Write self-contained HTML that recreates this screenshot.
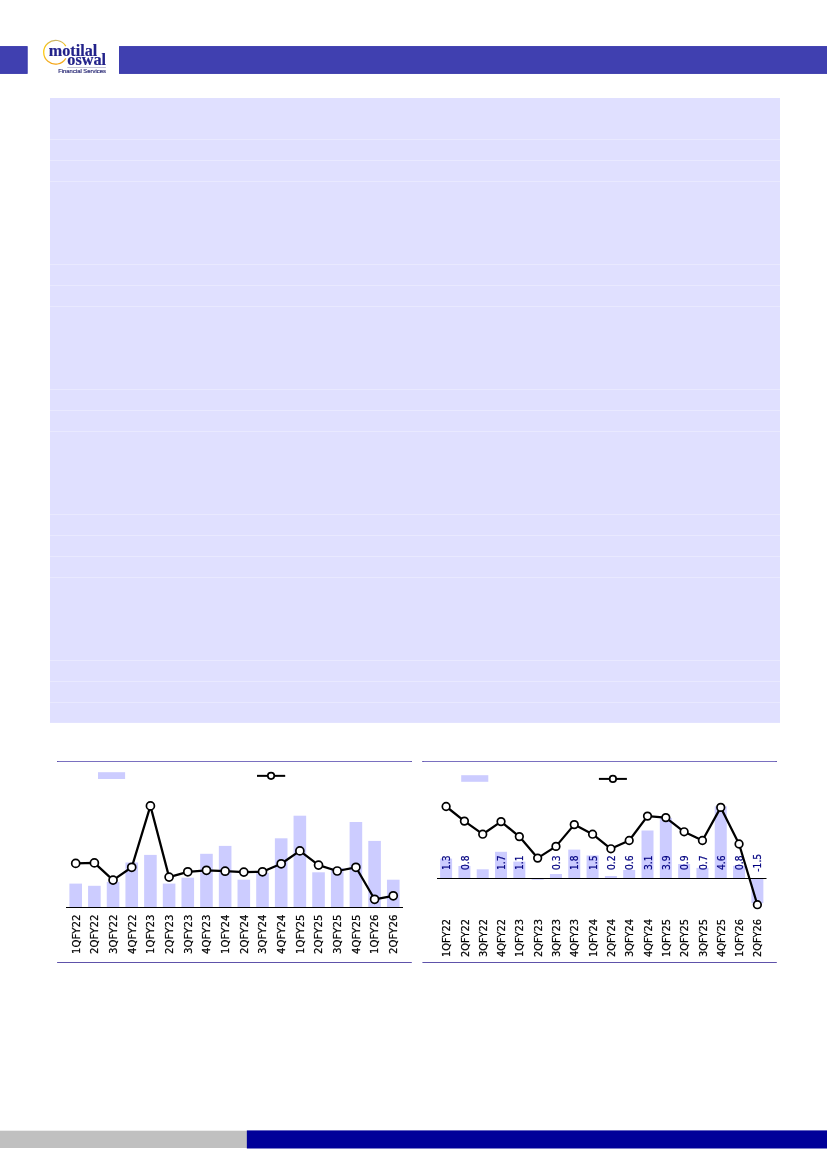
<!DOCTYPE html>
<html lang="en"><head><meta charset="utf-8"><title>Motilal Oswal Financial Services</title>
<style>
html,body{margin:0;padding:0;background:#fff;}
body{width:827px;height:1169px;overflow:hidden;position:relative;font-family:"DejaVu Sans Condensed","DejaVu Sans","Liberation Sans",sans-serif;}
svg{position:absolute;left:0;top:0;display:block;}
.xl{font-family:"DejaVu Sans Condensed","DejaVu Sans","Liberation Sans",sans-serif;font-size:10.8px;fill:#000;stroke:#000;stroke-width:0.22px;}
.dl{font-family:"DejaVu Sans Condensed","DejaVu Sans","Liberation Sans",sans-serif;font-size:10.8px;fill:#000080;stroke:#000080;stroke-width:0.22px;}
.lg1{font-family:"Liberation Serif",serif;font-weight:bold;font-size:17.7px;fill:#22228A;stroke:#22228A;stroke-width:0.2px;}
.lg2{font-family:"Liberation Sans",sans-serif;font-size:5.2px;fill:#2E2E78;stroke:#2E2E78;stroke-width:0.18px;}
</style></head><body>
<svg width="827" height="1169" viewBox="0 0 827 1169">
<rect x="-5" y="46.6" width="32.2" height="26.8" fill="#4040B0" stroke="#3434AA" stroke-width="0.9"/>
<rect x="119.5" y="46.6" width="720" height="26.8" fill="#4040B0" stroke="#3434AA" stroke-width="0.9"/>
<defs><linearGradient id="gold" x1="0" y1="0" x2="0" y2="1"><stop offset="0" stop-color="#C9B469"/><stop offset="0.18" stop-color="#F4C21A"/><stop offset="0.5" stop-color="#FFCB05"/><stop offset="0.85" stop-color="#F2B22C"/><stop offset="1" stop-color="#F5A313"/></linearGradient></defs>
<path d="M65.80 46.12 A11.9 11.9 0 1 0 65.80 58.38" fill="none" stroke="url(#gold)" stroke-width="1.25"/>
<text class="lg1" x="48.8" y="56.2" textLength="48.4" lengthAdjust="spacingAndGlyphs">motilal</text>
<text class="lg1" x="67.3" y="65.0" textLength="38.7" lengthAdjust="spacingAndGlyphs">oswal</text>
<rect x="67.2" y="67.1" width="38.7" height="0.7" fill="#A8A8C4"/>
<text class="lg2" x="58.2" y="72.7" textLength="47.7" lengthAdjust="spacingAndGlyphs">Financial Services</text>
<rect x="50" y="98" width="730" height="624.9" fill="#E0E0FF"/>
<rect x="50" y="139" width="730" height="1" fill="#E9E9FF"/>
<rect x="50" y="160" width="730" height="1" fill="#E9E9FF"/>
<rect x="50" y="181" width="730" height="1" fill="#E9E9FF"/>
<rect x="50" y="264" width="730" height="1" fill="#E9E9FF"/>
<rect x="50" y="285" width="730" height="1" fill="#E9E9FF"/>
<rect x="50" y="306" width="730" height="1" fill="#E9E9FF"/>
<rect x="50" y="389" width="730" height="1" fill="#E9E9FF"/>
<rect x="50" y="410" width="730" height="1" fill="#E9E9FF"/>
<rect x="50" y="431" width="730" height="1" fill="#E9E9FF"/>
<rect x="50" y="514" width="730" height="1" fill="#E9E9FF"/>
<rect x="50" y="535" width="730" height="1" fill="#E9E9FF"/>
<rect x="50" y="556" width="730" height="1" fill="#E9E9FF"/>
<rect x="50" y="577" width="730" height="1" fill="#E9E9FF"/>
<rect x="50" y="660" width="730" height="1" fill="#E9E9FF"/>
<rect x="50" y="681" width="730" height="1" fill="#E9E9FF"/>
<rect x="50" y="702" width="730" height="1" fill="#E9E9FF"/>
<rect x="57.1" y="761" width="354.7" height="1" fill="#7A70C0"/>
<rect x="57.1" y="962" width="354.7" height="1" fill="#5E52AA"/>
<rect x="410.6" y="761" width="1.2" height="1" fill="#5A4EA8"/>
<rect x="98" y="772.2" width="27.1" height="6.8" fill="#CCCCFF"/>
<rect x="69.40" y="883.6" width="12.6" height="23.4" fill="#CCCCFF"/>
<rect x="88.08" y="885.8" width="12.6" height="21.2" fill="#CCCCFF"/>
<rect x="106.76" y="881.9" width="12.6" height="25.1" fill="#CCCCFF"/>
<rect x="125.44" y="862.5" width="12.6" height="44.5" fill="#CCCCFF"/>
<rect x="144.12" y="854.9" width="12.6" height="52.1" fill="#CCCCFF"/>
<rect x="162.80" y="883.6" width="12.6" height="23.4" fill="#CCCCFF"/>
<rect x="181.48" y="877.7" width="12.6" height="29.3" fill="#CCCCFF"/>
<rect x="200.16" y="853.8" width="12.6" height="53.2" fill="#CCCCFF"/>
<rect x="218.84" y="845.9" width="12.6" height="61.1" fill="#CCCCFF"/>
<rect x="237.52" y="879.7" width="12.6" height="27.3" fill="#CCCCFF"/>
<rect x="256.20" y="873.0" width="12.6" height="34.0" fill="#CCCCFF"/>
<rect x="274.88" y="838.3" width="12.6" height="68.7" fill="#CCCCFF"/>
<rect x="293.56" y="815.7" width="12.6" height="91.3" fill="#CCCCFF"/>
<rect x="312.24" y="872.3" width="12.6" height="34.7" fill="#CCCCFF"/>
<rect x="330.92" y="867.9" width="12.6" height="39.1" fill="#CCCCFF"/>
<rect x="349.60" y="822.0" width="12.6" height="85.0" fill="#CCCCFF"/>
<rect x="368.28" y="840.9" width="12.6" height="66.1" fill="#CCCCFF"/>
<rect x="386.96" y="879.7" width="12.6" height="27.3" fill="#CCCCFF"/>
<rect x="66" y="907" width="337" height="1" fill="#000"/>
<polyline points="75.70,863.4 94.38,862.9 113.06,880.1 131.74,867.3 150.42,805.9 169.10,877.1 187.78,871.8 206.46,870.3 225.14,871.2 243.82,872.1 262.50,871.8 281.18,863.8 299.86,850.9 318.54,865.1 337.22,871.0 355.90,867.3 374.58,899.3 393.26,895.8" fill="none" stroke="#000" stroke-width="2.25" stroke-linejoin="round"/>
<circle cx="75.70" cy="863.4" r="4.0" fill="#fff" stroke="#000" stroke-width="1.7"/>
<circle cx="94.38" cy="862.9" r="4.0" fill="#fff" stroke="#000" stroke-width="1.7"/>
<circle cx="113.06" cy="880.1" r="4.0" fill="#fff" stroke="#000" stroke-width="1.7"/>
<circle cx="131.74" cy="867.3" r="4.0" fill="#fff" stroke="#000" stroke-width="1.7"/>
<circle cx="150.42" cy="805.9" r="4.0" fill="#fff" stroke="#000" stroke-width="1.7"/>
<circle cx="169.10" cy="877.1" r="4.0" fill="#fff" stroke="#000" stroke-width="1.7"/>
<circle cx="187.78" cy="871.8" r="4.0" fill="#fff" stroke="#000" stroke-width="1.7"/>
<circle cx="206.46" cy="870.3" r="4.0" fill="#fff" stroke="#000" stroke-width="1.7"/>
<circle cx="225.14" cy="871.2" r="4.0" fill="#fff" stroke="#000" stroke-width="1.7"/>
<circle cx="243.82" cy="872.1" r="4.0" fill="#fff" stroke="#000" stroke-width="1.7"/>
<circle cx="262.50" cy="871.8" r="4.0" fill="#fff" stroke="#000" stroke-width="1.7"/>
<circle cx="281.18" cy="863.8" r="4.0" fill="#fff" stroke="#000" stroke-width="1.7"/>
<circle cx="299.86" cy="850.9" r="4.0" fill="#fff" stroke="#000" stroke-width="1.7"/>
<circle cx="318.54" cy="865.1" r="4.0" fill="#fff" stroke="#000" stroke-width="1.7"/>
<circle cx="337.22" cy="871.0" r="4.0" fill="#fff" stroke="#000" stroke-width="1.7"/>
<circle cx="355.90" cy="867.3" r="4.0" fill="#fff" stroke="#000" stroke-width="1.7"/>
<circle cx="374.58" cy="899.3" r="4.0" fill="#fff" stroke="#000" stroke-width="1.7"/>
<circle cx="393.26" cy="895.8" r="4.0" fill="#fff" stroke="#000" stroke-width="1.7"/>
<line x1="257" y1="775.85" x2="285.2" y2="775.85" stroke="#000" stroke-width="2"/>
<circle cx="271.05" cy="775.85" r="3.25" fill="#fff" stroke="#000" stroke-width="1.7"/>
<text class="xl" transform="translate(79.60 953.9) rotate(-90)" textLength="39.3" lengthAdjust="spacingAndGlyphs">1QFY22</text>
<text class="xl" transform="translate(98.28 953.9) rotate(-90)" textLength="39.3" lengthAdjust="spacingAndGlyphs">2QFY22</text>
<text class="xl" transform="translate(116.96 953.9) rotate(-90)" textLength="39.3" lengthAdjust="spacingAndGlyphs">3QFY22</text>
<text class="xl" transform="translate(135.64 953.9) rotate(-90)" textLength="39.3" lengthAdjust="spacingAndGlyphs">4QFY22</text>
<text class="xl" transform="translate(154.32 953.9) rotate(-90)" textLength="39.3" lengthAdjust="spacingAndGlyphs">1QFY23</text>
<text class="xl" transform="translate(173.00 953.9) rotate(-90)" textLength="39.3" lengthAdjust="spacingAndGlyphs">2QFY23</text>
<text class="xl" transform="translate(191.68 953.9) rotate(-90)" textLength="39.3" lengthAdjust="spacingAndGlyphs">3QFY23</text>
<text class="xl" transform="translate(210.36 953.9) rotate(-90)" textLength="39.3" lengthAdjust="spacingAndGlyphs">4QFY23</text>
<text class="xl" transform="translate(229.04 953.9) rotate(-90)" textLength="39.3" lengthAdjust="spacingAndGlyphs">1QFY24</text>
<text class="xl" transform="translate(247.72 953.9) rotate(-90)" textLength="39.3" lengthAdjust="spacingAndGlyphs">2QFY24</text>
<text class="xl" transform="translate(266.40 953.9) rotate(-90)" textLength="39.3" lengthAdjust="spacingAndGlyphs">3QFY24</text>
<text class="xl" transform="translate(285.08 953.9) rotate(-90)" textLength="39.3" lengthAdjust="spacingAndGlyphs">4QFY24</text>
<text class="xl" transform="translate(303.76 953.9) rotate(-90)" textLength="39.3" lengthAdjust="spacingAndGlyphs">1QFY25</text>
<text class="xl" transform="translate(322.44 953.9) rotate(-90)" textLength="39.3" lengthAdjust="spacingAndGlyphs">2QFY25</text>
<text class="xl" transform="translate(341.12 953.9) rotate(-90)" textLength="39.3" lengthAdjust="spacingAndGlyphs">3QFY25</text>
<text class="xl" transform="translate(359.80 953.9) rotate(-90)" textLength="39.3" lengthAdjust="spacingAndGlyphs">4QFY25</text>
<text class="xl" transform="translate(378.48 953.9) rotate(-90)" textLength="39.3" lengthAdjust="spacingAndGlyphs">1QFY26</text>
<text class="xl" transform="translate(397.16 953.9) rotate(-90)" textLength="39.3" lengthAdjust="spacingAndGlyphs">2QFY26</text>
<rect x="422.4" y="761" width="354.4" height="1" fill="#7A70C0"/>
<rect x="422.4" y="962" width="354.4" height="1" fill="#5E52AA"/>
<rect x="422.4" y="761" width="1.2" height="1" fill="#5A4EA8"/>
<rect x="775.6" y="761" width="1.2" height="1" fill="#5A4EA8"/>
<rect x="57.1" y="761" width="1.2" height="1" fill="#5A4EA8"/>
<rect x="461.2" y="775.2" width="27.1" height="6.6" fill="#CCCCFF"/>
<rect x="440.10" y="858.6" width="12.0" height="19.4" fill="#CCCCFF"/>
<rect x="458.41" y="866.0" width="12.0" height="12.0" fill="#CCCCFF"/>
<rect x="476.72" y="869.3" width="12.0" height="8.7" fill="#CCCCFF"/>
<rect x="495.03" y="851.8" width="12.0" height="26.2" fill="#CCCCFF"/>
<rect x="513.34" y="861.6" width="12.0" height="16.4" fill="#CCCCFF"/>
<rect x="531.65" y="878.0" width="12.0" height="1.7" fill="#CCCCFF"/>
<rect x="549.96" y="874.0" width="12.0" height="4.0" fill="#CCCCFF"/>
<rect x="568.27" y="849.6" width="12.0" height="28.4" fill="#CCCCFF"/>
<rect x="586.58" y="855.5" width="12.0" height="22.5" fill="#CCCCFF"/>
<rect x="604.89" y="876.0" width="12.0" height="2.0" fill="#CCCCFF"/>
<rect x="623.20" y="869.9" width="12.0" height="8.1" fill="#CCCCFF"/>
<rect x="641.51" y="830.5" width="12.0" height="47.5" fill="#CCCCFF"/>
<rect x="659.82" y="817.9" width="12.0" height="60.1" fill="#CCCCFF"/>
<rect x="678.13" y="864.0" width="12.0" height="14.0" fill="#CCCCFF"/>
<rect x="696.44" y="867.9" width="12.0" height="10.1" fill="#CCCCFF"/>
<rect x="714.75" y="806.3" width="12.0" height="71.7" fill="#CCCCFF"/>
<rect x="733.06" y="865.8" width="12.0" height="12.2" fill="#CCCCFF"/>
<rect x="751.37" y="878.0" width="12.0" height="25.2" fill="#CCCCFF"/>
<rect x="437" y="878" width="329.5" height="1" fill="#000"/>
<text class="dl" transform="translate(450.20 870.0) rotate(-90) scale(0.945 1)">1.3</text>
<text class="dl" transform="translate(468.51 870.0) rotate(-90) scale(0.945 1)">0.8</text>
<text class="dl" transform="translate(505.13 870.0) rotate(-90) scale(0.945 1)">1.7</text>
<text class="dl" transform="translate(523.44 870.0) rotate(-90) scale(0.945 1)">1.1</text>
<text class="dl" transform="translate(560.06 870.0) rotate(-90) scale(0.945 1)">0.3</text>
<text class="dl" transform="translate(578.37 870.0) rotate(-90) scale(0.945 1)">1.8</text>
<text class="dl" transform="translate(596.68 870.0) rotate(-90) scale(0.945 1)">1.5</text>
<text class="dl" transform="translate(614.99 870.0) rotate(-90) scale(0.945 1)">0.2</text>
<text class="dl" transform="translate(633.30 870.0) rotate(-90) scale(0.945 1)">0.6</text>
<text class="dl" transform="translate(651.61 870.0) rotate(-90) scale(0.945 1)">3.1</text>
<text class="dl" transform="translate(669.92 870.0) rotate(-90) scale(0.945 1)">3.9</text>
<text class="dl" transform="translate(688.23 870.0) rotate(-90) scale(0.945 1)">0.9</text>
<text class="dl" transform="translate(706.54 870.0) rotate(-90) scale(0.945 1)">0.7</text>
<text class="dl" transform="translate(724.85 870.0) rotate(-90) scale(0.945 1)">4.6</text>
<text class="dl" transform="translate(743.16 870.0) rotate(-90) scale(0.945 1)">0.8</text>
<text class="dl" transform="translate(761.47 871.7) rotate(-90) scale(0.945 1)">-1.5</text>
<polyline points="446.10,806.5 464.41,821.1 482.72,834.2 501.03,821.6 519.34,836.6 537.65,858.1 555.96,846.4 574.27,824.6 592.58,834.2 610.89,848.8 629.20,840.5 647.51,816.1 665.82,817.6 684.13,831.8 702.44,840.5 720.75,807.4 739.06,844.0 757.37,904.7" fill="none" stroke="#000" stroke-width="2.25" stroke-linejoin="round"/>
<circle cx="446.10" cy="806.5" r="3.8" fill="#fff" stroke="#000" stroke-width="1.7"/>
<circle cx="464.41" cy="821.1" r="3.8" fill="#fff" stroke="#000" stroke-width="1.7"/>
<circle cx="482.72" cy="834.2" r="3.8" fill="#fff" stroke="#000" stroke-width="1.7"/>
<circle cx="501.03" cy="821.6" r="3.8" fill="#fff" stroke="#000" stroke-width="1.7"/>
<circle cx="519.34" cy="836.6" r="3.8" fill="#fff" stroke="#000" stroke-width="1.7"/>
<circle cx="537.65" cy="858.1" r="3.8" fill="#fff" stroke="#000" stroke-width="1.7"/>
<circle cx="555.96" cy="846.4" r="3.8" fill="#fff" stroke="#000" stroke-width="1.7"/>
<circle cx="574.27" cy="824.6" r="3.8" fill="#fff" stroke="#000" stroke-width="1.7"/>
<circle cx="592.58" cy="834.2" r="3.8" fill="#fff" stroke="#000" stroke-width="1.7"/>
<circle cx="610.89" cy="848.8" r="3.8" fill="#fff" stroke="#000" stroke-width="1.7"/>
<circle cx="629.20" cy="840.5" r="3.8" fill="#fff" stroke="#000" stroke-width="1.7"/>
<circle cx="647.51" cy="816.1" r="3.8" fill="#fff" stroke="#000" stroke-width="1.7"/>
<circle cx="665.82" cy="817.6" r="3.8" fill="#fff" stroke="#000" stroke-width="1.7"/>
<circle cx="684.13" cy="831.8" r="3.8" fill="#fff" stroke="#000" stroke-width="1.7"/>
<circle cx="702.44" cy="840.5" r="3.8" fill="#fff" stroke="#000" stroke-width="1.7"/>
<circle cx="720.75" cy="807.4" r="3.8" fill="#fff" stroke="#000" stroke-width="1.7"/>
<circle cx="739.06" cy="844.0" r="3.8" fill="#fff" stroke="#000" stroke-width="1.7"/>
<circle cx="757.37" cy="904.7" r="3.8" fill="#fff" stroke="#000" stroke-width="1.7"/>
<line x1="598.9" y1="778.9" x2="626.9" y2="778.9" stroke="#000" stroke-width="2"/>
<circle cx="612.9" cy="778.9" r="3.25" fill="#fff" stroke="#000" stroke-width="1.7"/>
<text class="xl" transform="translate(450.20 957.0) rotate(-90)" textLength="38.0" lengthAdjust="spacingAndGlyphs">1QFY22</text>
<text class="xl" transform="translate(468.51 957.0) rotate(-90)" textLength="38.0" lengthAdjust="spacingAndGlyphs">2QFY22</text>
<text class="xl" transform="translate(486.82 957.0) rotate(-90)" textLength="38.0" lengthAdjust="spacingAndGlyphs">3QFY22</text>
<text class="xl" transform="translate(505.13 957.0) rotate(-90)" textLength="38.0" lengthAdjust="spacingAndGlyphs">4QFY22</text>
<text class="xl" transform="translate(523.44 957.0) rotate(-90)" textLength="38.0" lengthAdjust="spacingAndGlyphs">1QFY23</text>
<text class="xl" transform="translate(541.75 957.0) rotate(-90)" textLength="38.0" lengthAdjust="spacingAndGlyphs">2QFY23</text>
<text class="xl" transform="translate(560.06 957.0) rotate(-90)" textLength="38.0" lengthAdjust="spacingAndGlyphs">3QFY23</text>
<text class="xl" transform="translate(578.37 957.0) rotate(-90)" textLength="38.0" lengthAdjust="spacingAndGlyphs">4QFY23</text>
<text class="xl" transform="translate(596.68 957.0) rotate(-90)" textLength="38.0" lengthAdjust="spacingAndGlyphs">1QFY24</text>
<text class="xl" transform="translate(614.99 957.0) rotate(-90)" textLength="38.0" lengthAdjust="spacingAndGlyphs">2QFY24</text>
<text class="xl" transform="translate(633.30 957.0) rotate(-90)" textLength="38.0" lengthAdjust="spacingAndGlyphs">3QFY24</text>
<text class="xl" transform="translate(651.61 957.0) rotate(-90)" textLength="38.0" lengthAdjust="spacingAndGlyphs">4QFY24</text>
<text class="xl" transform="translate(669.92 957.0) rotate(-90)" textLength="38.0" lengthAdjust="spacingAndGlyphs">1QFY25</text>
<text class="xl" transform="translate(688.23 957.0) rotate(-90)" textLength="38.0" lengthAdjust="spacingAndGlyphs">2QFY25</text>
<text class="xl" transform="translate(706.54 957.0) rotate(-90)" textLength="38.0" lengthAdjust="spacingAndGlyphs">3QFY25</text>
<text class="xl" transform="translate(724.85 957.0) rotate(-90)" textLength="38.0" lengthAdjust="spacingAndGlyphs">4QFY25</text>
<text class="xl" transform="translate(743.16 957.0) rotate(-90)" textLength="38.0" lengthAdjust="spacingAndGlyphs">1QFY26</text>
<text class="xl" transform="translate(761.47 957.0) rotate(-90)" textLength="38.0" lengthAdjust="spacingAndGlyphs">2QFY26</text>
<rect x="-2" y="1130.7" width="249" height="17.3" fill="#C0C0C0"/>
<rect x="246.85" y="1130.4" width="590" height="18.1" fill="#000099"/>
</svg></body></html>
